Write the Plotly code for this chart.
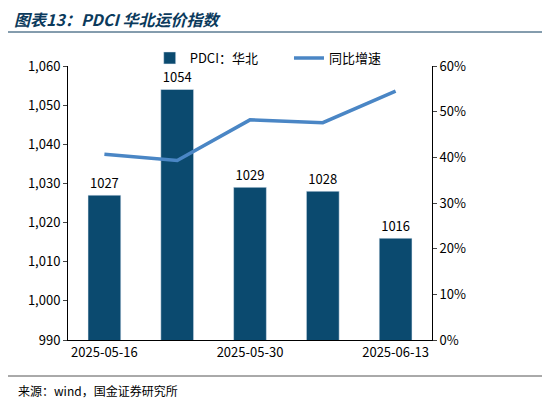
import plotly.graph_objects as go

dates = ["2025-05-16", "2025-05-23", "2025-05-30", "2025-06-06", "2025-06-13"]
tick_labels = ["2025-05-16", "", "2025-05-30", "", "2025-06-13"]
pdci = [1027, 1054, 1029, 1028, 1016]
yoy = [40.7, 39.3, 48.2, 47.6, 54.5]

F = "Noto Sans CJK SC"
fig = go.Figure()
fig.add_trace(go.Bar(x=dates, y=pdci, name="PDCI：华北　　", marker_color="#0b4a6f",
                     text=[str(v) for v in pdci], textposition="outside",
                     textfont=dict(size=13, color="#000"), cliponaxis=False, width=0.45))
fig.add_trace(go.Scatter(x=dates, y=yoy, name="同比增速", yaxis="y2", mode="lines",
                         line=dict(color="#4a86c5", width=3.5)))
H = 274.0
W = 364.0
B = 332.0
L = 60.0
fig.update_layout(
    width=550, height=404, paper_bgcolor="white", plot_bgcolor="white",
    margin=dict(l=60, r=126, t=58, b=72, autoexpand=False),
    font=dict(family=F, size=13, color="#000"),
    xaxis=dict(type="category", tickvals=dates, ticktext=tick_labels, tickangle=0,
               showline=True, linecolor="#000", ticks="", showgrid=False),
    yaxis=dict(range=[990, 1060], dtick=10, tickformat=",", showgrid=False,
               showline=True, linecolor="#000", ticks="outside", ticklen=4),
    yaxis2=dict(range=[0, 60], dtick=10, ticksuffix="%", overlaying="y", side="right",
                showgrid=False, showline=True, linecolor="#000", ticks="outside", ticklen=4),
    legend=dict(orientation="h", x=0.55, xanchor="center", y=(B - 50) / H, yanchor="middle",
                font=dict(size=13), bgcolor="rgba(0,0,0,0)"),
    annotations=[
        dict(text="<b><i>图表13：PDCI 华北运价指数</i></b>", x=(4 - L) / W, y=(B - 11) / H,
             xref="paper", yref="paper", xanchor="left", yanchor="middle", showarrow=False,
             font=dict(size=16, color="#0b3a5c")),
        dict(text="来源：wind，国金证券研究所", x=(8 - L) / W, y=(B - 382) / H,
             xref="paper", yref="paper", xanchor="left", yanchor="middle", showarrow=False,
             font=dict(size=12)),
    ],
    shapes=[
        dict(type="line", xref="paper", yref="paper", x0=(0 - L) / W, x1=(540 - L) / W,
             y0=(B - 24) / H, y1=(B - 24) / H, line=dict(color="#0b3a5c", width=1)),
        dict(type="line", xref="paper", yref="paper", x0=(0 - L) / W, x1=(540 - L) / W,
             y0=(B - 368) / H, y1=(B - 368) / H, line=dict(color="#555", width=1)),
    ],
)
fig.write_html("out.html")
